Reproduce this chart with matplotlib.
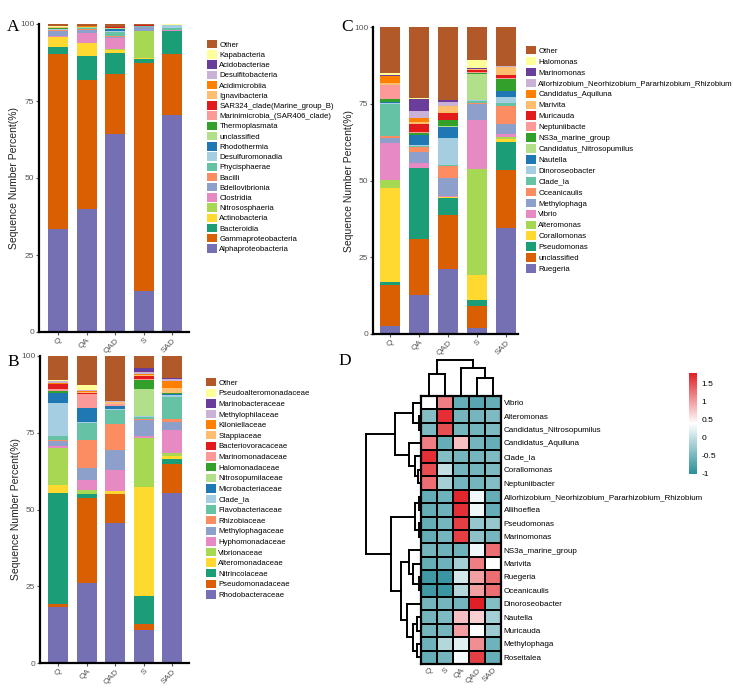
import numpy as np
import matplotlib.pyplot as plt
from matplotlib.colors import LinearSegmentedColormap
from matplotlib.patches import Patch

plt.rcParams['font.family'] = ['Liberation Sans', 'DejaVu Sans']

samples = ['Q', 'QA', 'QAD', 'S', 'SAD']
pal = ['#7570B3', '#D95F02', '#1B9E77', '#FFD92F', '#A6D854', '#E78AC3', '#8DA0CB',
       '#FC8D62', '#66C2A5', '#A6CEE3', '#1F78B4', '#B2DF8A', '#33A02C', '#FB9A99',
       '#E31A1C', '#FDBF6F', '#FF7F00', '#CAB2D6', '#6A3D9A', '#FFFF99', '#B15928']

# A - class level (bottom -> top)
cls = ['Alphaproteobacteria', 'Gammaproteobacteria', 'Bacteroidia', 'Actinobacteria',
       'Nitrososphaeria', 'Clostridia', 'Bdellovibrionia', 'Bacilli', 'Phycisphaerae',
       'Desulfuromonadia', 'Rhodothermia', 'unclassified', 'Thermoplasmata',
       'Marinimicrobia_(SAR406_clade)', 'SAR324_clade(Marine_group_B)', 'Ignavibacteria',
       'Acidimicrobiia', 'Desulfitobacteria', 'Acidobacteriae', 'Kapabacteria', 'Other']
a_q = [33.5, 56.7, 2.3, 3.3, 0.1, 0.3, 1.5, 0.2, 0.3, 0.1, 0.1, 0.1, 0.1, 0.1, 0.1, 0.2, 0.1, 0.0, 0.0, 0.1, 0.8]
a_qa = [40.0, 41.9, 7.8, 4.1, 0.1, 3.2, 1.1, 0.2, 0.2, 0.1, 0.1, 0.1, 0.0, 0.1, 0.0, 0.1, 0.1, 0.0, 0.0, 0.1, 0.7]
a_qad = [64.3, 19.6, 6.7, 1.1, 0.1, 3.7, 0.4, 0.3, 1.2, 0.4, 0.6, 0.2, 0.1, 0.1, 0.1, 0.1, 0.1, 0.0, 0.0, 0.0, 0.9]
a_s = [13.4, 73.9, 1.4, 0.1, 8.8, 0.1, 1.2, 0.1, 0.2, 0.1, 0.0, 0.1, 0.0, 0.1, 0.3, 0.0, 0.0, 0.0, 0.0, 0.0, 0.2]
a_sad = [70.3, 20.1, 7.4, 0.0, 0.0, 0.1, 0.1, 0.0, 0.6, 1.1, 0.0, 0.1, 0.0, 0.0, 0.0, 0.0, 0.0, 0.0, 0.0, 0.1, 0.1]

# B - family level
fam = ['Rhodobacteraceae', 'Pseudomonadaceae', 'Nitrincolaceae', 'Alteromonadaceae',
       'Vibrionaceae', 'Hyphomonadaceae', 'Methylophagaceae', 'Rhizobiaceae',
       'Flavobacteriaceae', 'Clade_Ia', 'Microbacteriaceae', 'Nitrosopumilaceae',
       'Halomonadaceae', 'Marinomonadaceae', 'Bacteriovoracaceae', 'Stappiaceae',
       'Kiloniellaceae', 'Methylophilaceae', 'Marinobacteraceae', 'Pseudoalteromonadaceae', 'Other']
b_q = [18.4, 0.9, 36.0, 2.7, 12.0, 0.7, 1.6, 0.3, 1.3, 10.8, 3.1, 0.2, 0.6, 0.6, 1.6, 0.2, 0.1, 0.8, 0.1, 0.2, 7.8]
b_qa = [26.0, 27.9, 1.1, 0.2, 1.2, 3.3, 3.7, 9.1, 5.8, 0.3, 4.4, 0.1, 0.1, 4.3, 0.6, 0.3, 0.2, 0.3, 0.1, 1.6, 9.4]
b_qad = [45.6, 9.4, 0.2, 0.7, 0.1, 7.0, 6.3, 8.7, 4.3, 0.3, 1.0, 0.0, 0.1, 0.6, 0.1, 0.6, 0.1, 0.1, 0.1, 0.1, 14.7]
b_s = [10.6, 2.2, 8.9, 35.5, 16.0, 0.6, 5.4, 0.3, 0.5, 0.4, 0.1, 8.8, 2.8, 0.5, 1.0, 0.3, 0.1, 0.8, 1.2, 0.2, 3.8]
b_sad = [55.3, 9.6, 1.5, 1.1, 1.0, 7.5, 2.5, 1.1, 7.0, 0.7, 0.3, 0.1, 0.1, 0.2, 0.1, 1.6, 2.2, 0.7, 0.1, 0.1, 7.2]

# C - genus level
gen = ['Ruegeria', 'unclassified', 'Pseudomonas', 'Corallomonas', 'Alteromonas', 'Vibrio',
       'Methylophaga', 'Oceanicaulis', 'Clade_Ia', 'Dinoroseobacter', 'Nautella',
       'Candidatus_Nitrosopumilus', 'NS3a_marine_group', 'Neptuniibacte', 'Muricauda',
       'Marivita', 'Candidatus_Aquiluna', 'Allorhizobium_Neorhizobium_Pararhizobium_Rhizobium',
       'Marinomonas', 'Halomonas', 'Other']
c_q = [2.7, 13.3, 0.8, 30.9, 2.5, 11.9, 1.6, 0.8, 10.4, 0.4, 0.2, 0.1, 0.8, 4.6, 0.1, 0.5, 2.4, 0.2, 0.1, 0.7, 15.0]
c_qa = [12.8, 18.2, 23.0, 0.1, 0.1, 1.4, 3.8, 1.6, 0.3, 0.2, 3.3, 0.1, 0.5, 0.3, 2.6, 0.6, 1.4, 2.4, 3.9, 0.4, 23.0]
c_qad = [21.1, 17.7, 5.6, 0.1, 0.1, 0.4, 5.9, 3.9, 0.2, 8.8, 3.7, 0.1, 2.0, 0.1, 2.2, 2.3, 0.2, 1.3, 0.5, 0.1, 23.7]
c_s = [2.0, 7.0, 2.2, 8.1, 34.4, 15.9, 5.4, 0.2, 0.7, 0.2, 0.1, 8.5, 0.4, 0.3, 0.6, 0.2, 0.1, 0.1, 0.1, 2.6, 10.9]
c_sad = [34.5, 18.9, 9.2, 0.8, 0.8, 1.1, 3.2, 5.9, 0.8, 1.9, 2.0, 0.2, 3.8, 0.2, 1.0, 2.6, 0.2, 0.1, 0.1, 0.1, 12.6]

# D - heatmap (z-scores), rows top -> bottom
hm_rows = ['Vibrio', 'Alteromonas', 'Candidatus_Nitrosopumilus', 'Candidatus_Aquiluna', 'Clade_Ia',
           'Corallomonas', 'Neptuniibacter', 'Allorhizobium_Neorhizobium_Pararhizobium_Rhizobium',
           'Allihoeflea', 'Pseudomonas', 'Marinomonas', 'NS3a_marine_group', 'Marivita',
           'Ruegeria', 'Oceanicaulis', 'Dinoroseobacter', 'Nautella', 'Muricauda',
           'Methylophaga', 'Roseitalea']
hm_cols = ['Q', 'S', 'QA', 'QAD', 'SAD']
hm_q = [0.4, -0.4, -0.45, 1.2, 1.7, 1.5, 1.3, -0.6, -0.6, -0.6, -0.6, -0.5, -0.6, -0.85, -0.85, -0.5, -0.5, -0.5, -0.55, -0.6]
hm_s = [1.2, 1.7, 1.5, -0.6, -0.4, 0.0, -0.2, -0.55, -0.55, -0.5, -0.5, -0.55, -0.55, -0.9, -0.9, -0.5, -0.45, -0.5, -0.1, -0.5]
hm_qa = [-0.6, -0.5, -0.5, 0.8, -0.5, -0.5, -0.5, 1.75, 1.7, 1.6, 1.6, -0.55, -0.2, 0.1, -0.1, -0.5, 0.8, 1.0, 0.2, 0.35]
hm_qad = [-0.7, -0.5, -0.5, -0.5, -0.5, -0.5, -0.5, 0.3, 0.3, -0.3, -0.35, 0.3, 1.2, 1.0, 1.0, 1.8, 0.7, 0.4, 1.1, 1.6]
hm_sad = [-0.6, -0.45, -0.45, -0.6, -0.45, -0.45, -0.4, -0.6, -0.6, -0.3, -0.5, 1.3, 0.4, 1.3, 1.3, -0.4, -0.2, -0.25, -0.55, -0.6]

# dendrogram merges: (child, child, height); leaves numbered in display order
row_tree = [(1, 2, 2), (0, 20, 8), (5, 6, 3), (4, 22, 6), (3, 23, 12), (21, 24, 26),
            (7, 8, 2), (9, 10, 2), (26, 27, 6), (13, 14, 2), (12, 29, 8), (11, 30, 12),
            (16, 17, 4), (18, 19, 4), (32, 33, 8), (15, 34, 14), (31, 35, 20),
            (28, 36, 30), (25, 37, 55)]
col_tree = [(0, 1, 22), (3, 4, 18), (2, 6, 28), (5, 7, 36)]

W, H = 733, 695
fig = plt.figure(figsize=(W / 100, H / 100), dpi=100)


def box(l, t, r, b):
    return [l / W, 1 - b / H, (r - l) / W, (b - t) / H]


def stacked(rect, cats, rows, xlim, leg_x, leg_top, leg_step):
    ax = fig.add_axes(box(*rect))
    vals = np.array(rows).T
    x = np.arange(len(samples))
    bottom = np.zeros(len(samples))
    for i in range(len(cats)):
        ax.bar(x, vals[i], bottom=bottom, width=0.7, color=pal[i], linewidth=0)
        bottom += vals[i]
    ax.set_xlim(*xlim)
    ax.set_ylim(0, 100)
    ax.set_yticks([0, 25, 50, 75, 100])
    ax.set_xticks(x)
    ax.set_xticklabels(samples, rotation=45, ha='right', va='top', rotation_mode='anchor')
    ax.tick_params(labelsize=6, colors='#555555', length=2, width=0.8, pad=1.5)
    for s in ['top', 'right']:
        ax.spines[s].set_visible(False)
    for s in ['left', 'bottom']:
        ax.spines[s].set_linewidth(1.6)
    ax.set_ylabel('Sequence Number Percent(%)', fontsize=7.5, color='#222222')
    ax.yaxis.set_label_coords(-0.13, 0.5)
    handles = [Patch(facecolor=pal[i], label=cats[i]) for i in range(len(cats) - 1, -1, -1)]
    fs = 5.6
    fpx = fs * 100 / 72
    hh = 10 / fpx
    fig.legend(handles=handles, loc='upper left', bbox_to_anchor=(leg_x / W, 1 - leg_top / H),
               frameon=False, fontsize=fs, handlelength=hh, handleheight=hh,
               labelspacing=(leg_step - 10) / fpx, handletextpad=0.3, borderpad=0,
               borderaxespad=0)
    return ax


stacked((39, 24, 189, 332), cls, [a_q, a_qa, a_qad, a_s, a_sad], (-0.66, 4.58), 207, 40, 11.4)
stacked((40, 356, 189, 663), fam, [b_q, b_qa, b_qad, b_s, b_sad], (-0.64, 4.58), 206, 378, 11.8)
stacked((373, 27, 518, 334), gen, [c_q, c_qa, c_qad, c_s, c_sad], (-0.59, 4.41), 526, 46, 12.1)

# D heatmap
cmap = LinearSegmentedColormap.from_list('tw', ['#2A8E9B', '#FFFFFF', '#E11F26'])
data = np.array([hm_q, hm_s, hm_qa, hm_qad, hm_sad]).T
L, T, R, B = 421, 396, 501, 664
axh = fig.add_axes(box(L, T, R, B))
mesh = axh.pcolormesh(data, cmap=cmap, vmin=-1, vmax=1.8, edgecolors='black', linewidth=1.3)
axh.set_xlim(0, 5)
axh.set_ylim(len(hm_rows), 0)
axh.yaxis.tick_right()
axh.set_yticks(np.arange(len(hm_rows)) + 0.5)
axh.set_yticklabels(hm_rows, fontsize=5.8)
axh.set_xticks(np.arange(5) + 0.5)
axh.set_xticklabels(hm_cols, rotation=45, ha='right', va='top', rotation_mode='anchor',
                    fontsize=6, color='#555555')
axh.tick_params(length=0, pad=2)
for s in axh.spines.values():
    s.set_linewidth(1.6)


def dendro(ax, tree, nleaf, horizontal):
    pos = {i: i + 0.5 for i in range(nleaf)}
    hgt = {i: 0 for i in range(nleaf)}
    k = nleaf
    for a, b, h in tree:
        for c in (a, b):
            if horizontal:
                ax.plot([hgt[c], h], [pos[c], pos[c]], color='black', lw=1.4, solid_capstyle='projecting')
            else:
                ax.plot([pos[c], pos[c]], [hgt[c], h], color='black', lw=1.4, solid_capstyle='projecting')
        if horizontal:
            ax.plot([h, h], [pos[a], pos[b]], color='black', lw=1.4, solid_capstyle='projecting')
        else:
            ax.plot([pos[a], pos[b]], [h, h], color='black', lw=1.4, solid_capstyle='projecting')
        pos[k] = (pos[a] + pos[b]) / 2
        hgt[k] = h
        k += 1
    ax.axis('off')


axr = fig.add_axes(box(363, T, L, B))
dendro(axr, row_tree, len(hm_rows), True)
axr.set_xlim(58, 0)
axr.set_ylim(len(hm_rows), 0)

axc = fig.add_axes(box(L, 358, R, T))
dendro(axc, col_tree, 5, False)
axc.set_xlim(0, 5)
axc.set_ylim(0, 38)

cax = fig.add_axes(box(689, 373, 697, 474))
cb = fig.colorbar(mesh, cax=cax, ticks=[-1, -0.5, 0, 0.5, 1, 1.5])
cb.ax.set_yticklabels(['-1', '-0.5', '0', '0.5', '1', '1.5'])
cb.outline.set_visible(False)
cb.ax.tick_params(length=0, labelsize=6, pad=3)

for lab, x, y in [('A', 13, 27), ('B', 13, 362), ('C', 347, 27), ('D', 345, 361)]:
    fig.text(x / W, 1 - y / H, lab, fontsize=12.5, family='Liberation Serif', ha='center', va='center')

fig.savefig('out.png', dpi=100)
